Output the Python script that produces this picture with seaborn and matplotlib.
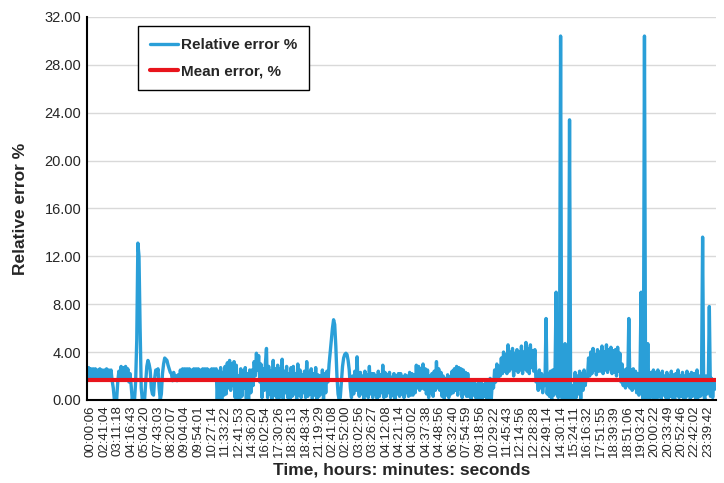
import numpy as np
import pandas as pd
import seaborn as sns
import matplotlib.pyplot as plt

# Tick labels on the time axis (one every 12 samples)
time_labels = [
    "00:00:06", "02:41:04", "03:11:18", "04:16:43", "05:04:20", "07:43:03",
    "08:20:07", "09:04:04", "09:54:01", "10:27:14", "11:33:22", "12:41:53",
    "14:36:20", "16:02:54", "17:30:26", "18:28:13", "18:48:34", "21:19:29",
    "02:41:08", "02:52:00", "03:02:56", "03:26:27", "04:12:08", "04:21:14",
    "04:30:02", "04:37:38", "04:48:56", "06:32:40", "07:54:59", "09:18:56",
    "10:29:22", "11:45:43", "12:14:56", "12:28:28", "12:49:14", "14:30:14",
    "15:24:11", "16:16:32", "17:51:55", "18:39:39", "18:51:06", "19:03:24",
    "20:00:22", "20:33:49", "20:52:46", "22:42:02", "23:39:42",
]

# Relative error %
rel_error = [
    2.7, 1.8, 2.7, 1.8,
    2.6, 1.8, 2.6, 1.7, 2.6, 1.8, 2.5, 1.7, 2.6, 1.8, 2.5, 1.7,
    2.5, 1.7, 2.6, 1.8, 2.5, 1.7, 2.5, 1.6, 1.0, 0.0, 0.3, 0.0,
    1.5, 2.4, 1.9, 2.8, 1.8, 2.7, 1.9, 2.8, 1.7, 2.6, 1.5, 2.2,
    1.2, 0.0, 0.5, 0.0, 1.5, 5.0, 13.1, 12.0, 6.0, 1.0, 0.0, 0.2,
    0.0, 1.5, 2.8, 3.3, 3.0, 2.5, 1.0, 0.5, 0.4, 1.8, 2.5, 2.2,
    2.6, 1.0, 0.0, 0.5, 2.2, 3.0, 3.5, 3.4, 3.3, 2.9, 2.6, 2.3,
    2.2, 1.6, 2.3, 1.7, 2.0, 1.6, 2.1, 1.7, 2.5, 1.8, 2.6, 1.8,
    2.6, 1.8, 2.6, 1.7, 2.6, 1.8, 2.5, 1.8, 2.6, 1.7, 2.6, 1.8,
    2.6, 1.8, 2.5, 1.8, 2.6, 1.7, 2.6, 1.8, 2.6, 1.8, 2.5, 1.7,
    2.6, 1.8, 2.6, 1.8, 2.6, 0.0, 2.4, 0.2, 2.7, 0.0, 2.3, 0.4,
    2.8, 0.5, 3.1, 1.0, 3.3, 0.8, 3.0, 1.2, 3.2, 0.2, 2.9, 0.0,
    2.0, 0.0, 2.6, 0.3, 2.4, 1.0, 2.7, 0.1, 2.2, 0.0, 2.5, 0.6,
    2.5, 1.2, 3.2, 2.0, 3.9, 2.5, 3.7, 1.5, 3.0, 0.2, 2.6, 0.8,
    3.0, 4.3, 0.2, 2.8, 0.5, 2.4, 0.0, 3.3, 0.4, 2.6, 0.2, 2.9,
    0.1, 2.6, 0.3, 3.4, 0.0, 2.4, 0.6, 2.8, 0.2, 2.2, 0.0, 2.7,
    0.3, 2.8, 0.5, 2.2, 0.0, 3.0, 0.4, 2.5, 0.2, 2.1, 0.6, 2.4,
    0.2, 3.2, 0.3, 2.3, 0.5, 2.6, 0.1, 2.2, 0.4, 2.7, 0.0, 2.1,
    0.3, 2.0, 0.5, 2.5, 0.0, 2.2, 0.6, 2.4, 1.5, 3.0, 4.0, 5.0,
    6.0, 6.7, 6.3, 4.5, 2.0, 0.5, 0.0, 0.2, 1.5, 2.8, 3.5, 3.8,
    3.9, 3.8, 3.3, 2.5, 1.0, 0.2, 2.0, 0.5, 2.4, 0.8, 3.6, 1.0,
    0.3, 2.3, 0.5, 2.0, 0.0, 2.4, 0.4, 2.1, 0.2, 2.8, 0.5, 2.2,
    0.2, 2.2, 0.5, 2.0, 0.1, 2.4, 0.3, 2.1, 0.6, 2.9, 0.2, 2.3,
    0.3, 2.1, 0.6, 2.3, 0.2, 1.9, 0.4, 2.2, 0.1, 2.0, 0.5, 2.2,
    0.3, 2.2, 0.5, 1.9, 0.2, 2.1, 0.6, 2.0, 0.3, 2.3, 0.4, 2.2,
    0.4, 2.1, 0.6, 2.9, 1.0, 2.8, 0.8, 2.6, 1.0, 3.0, 0.9, 2.6,
    0.5, 2.5, 0.2, 2.0, 0.6, 2.2, 0.3, 2.4, 0.8, 3.2, 1.0, 2.6,
    0.8, 2.3, 0.3, 2.0, 0.1, 1.8, 0.4, 2.1, 0.2, 1.9, 0.5, 2.4,
    0.6, 2.6, 0.8, 2.8, 0.4, 2.7, 0.9, 2.6, 0.2, 2.5, 0.5, 2.3,
    0.3, 2.2, 0.3, 1.5, 0.1, 1.4, 0.4, 1.6, 0.2, 1.3, 0.0, 1.5,
    0.2, 1.6, 0.0, 1.3, 0.3, 1.5, 0.1, 1.4, 0.2, 1.8, 0.0, 1.6,
    1.0, 2.5, 1.5, 3.0, 1.8, 2.8, 2.0, 3.5, 2.2, 4.0, 2.4, 3.8,
    2.2, 4.6, 2.4, 4.0, 2.6, 4.3, 2.0, 3.9, 2.5, 4.2, 2.3, 4.0,
    2.5, 4.5, 2.2, 4.0, 2.6, 4.8, 2.4, 4.3, 2.2, 4.6, 2.7, 4.1,
    2.4, 4.2, 1.5, 2.0, 0.8, 2.5, 1.0, 2.2, 0.6, 2.0, 1.2, 6.8,
    0.5, 2.2, 0.3, 2.4, 0.0, 2.5, 0.4, 2.1, 9.0, 0.5, 0.2, 2.0,
    30.4, 0.2, 0.0, 1.5, 4.7, 0.0, 0.3, 0.0, 23.4, 0.3, 0.0, 1.2,
    0.0, 2.3, 0.2, 2.0, 0.5, 2.4, 0.1, 2.2, 0.8, 2.5, 1.2, 2.0,
    1.8, 3.5, 2.0, 4.0, 2.2, 4.3, 2.5, 3.8, 2.1, 4.2, 2.4, 4.0,
    2.4, 4.5, 2.2, 4.0, 2.5, 4.6, 2.3, 4.2, 2.6, 4.4, 2.2, 4.1,
    2.3, 4.2, 2.0, 4.4, 2.4, 3.9, 1.5, 3.0, 1.2, 2.5, 1.0, 2.6,
    1.2, 6.8, 1.0, 2.5, 0.8, 2.6, 1.0, 2.4, 0.6, 2.2, 0.4, 2.0,
    9.0, 0.5, 0.0, 30.4, 0.3, 0.0, 4.7, 0.0, 0.5, 2.3, 0.2, 2.5,
    0.2, 2.3, 0.0, 2.5, 0.3, 2.2, 0.1, 2.4, 0.4, 2.0, 0.2, 2.3,
    0.1, 2.0, 0.3, 2.4, 0.2, 2.1, 0.0, 2.2, 0.4, 2.5, 0.2, 2.0,
    0.3, 2.3, 0.1, 2.0, 0.2, 2.4, 0.4, 2.1, 0.0, 2.3, 0.3, 2.2,
    2.2, 0.0, 2.5, 0.2, 2.0, 0.3, 1.5, 13.6, 0.4, 0.0, 2.0, 0.5,
    1.0, 7.8, 0.3, 1.8, 0.2, 1.5, 0.9,
]
mean_error = 1.67

df = pd.DataFrame({"idx": np.arange(len(rel_error)), "err": rel_error})

sns.set_style("white")
plt.rcParams["font.family"] = ["Liberation Sans", "DejaVu Sans"]

fig = plt.figure(figsize=(7.24, 4.83), dpi=100)
ax = fig.add_axes([0.120, 0.172, 0.869, 0.793])

sns.lineplot(data=df, x="idx", y="err", ax=ax, color="#2a9fd8",
             linewidth=2.4, label="Relative error %")
ax.axhline(mean_error, color="#e8141c", linewidth=3, label="Mean error, %")

ax.set_ylim(0, 32)
ax.set_yticks(np.arange(0, 33, 4))
ax.set_yticklabels([f"{v:.2f}" for v in np.arange(0, 33, 4)], fontsize=10.5)
ax.set_xlim(0.4, len(rel_error))
ax.set_xticks([4 + 12 * i for i in range(len(time_labels))])
ax.set_xticklabels(time_labels, rotation=90, fontsize=9.5)
ax.tick_params(axis="both", length=0, pad=4)

ax.grid(axis="y", color="#d9d9d9", linewidth=1)
ax.set_axisbelow(True)
for s in ["top", "right"]:
    ax.spines[s].set_visible(False)
for s in ["left", "bottom"]:
    ax.spines[s].set_color("black")
    ax.spines[s].set_linewidth(1.5)

ax.set_xlabel("Time, hours: minutes: seconds", fontsize=12.5, fontweight="bold")
ax.set_ylabel("Relative error %", fontsize=12.5, fontweight="bold", labelpad=12)

leg = ax.legend(loc="upper left", bbox_to_anchor=(0.081, 0.977), borderaxespad=0,
                fancybox=False, edgecolor="black", framealpha=1,
                handlelength=1.8, handletextpad=0.2, borderpad=0.8,
                labelspacing=0.8, prop={"weight": "bold", "size": 11})
leg.get_frame().set_linewidth(1)

fig.savefig("out.png", dpi=100)
